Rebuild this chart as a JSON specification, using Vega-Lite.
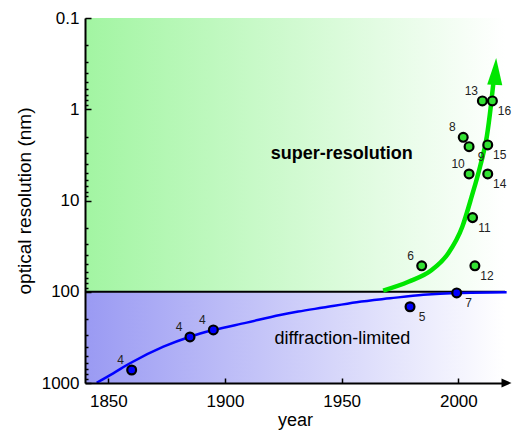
{
  "$schema": "https://vega.github.io/schema/vega-lite/v6.json",
  "width": 420,
  "height": 365,
  "autosize": "none",
  "padding": {"left": 85, "top": 18, "right": 7, "bottom": 47},
  "background": "white",
  "config": {"view": {"stroke": null}, "font": "Liberation Sans"},
  "datasets": {
    "bg_sr": [{"year": 1840, "year2": 2020, "res": 0.1, "res2": 100}],
    "bg_dl": [{"year": 1840, "year2": 2020, "res": 100, "res2": 1000}],
    "baseline": [{"year": 1840, "year2": 2020, "res": 100}],
    "diffraction_curve": [
      {"year": 1845, "res": 993}, {"year": 1852.1, "res": 783}, {"year": 1859.3, "res": 608},
      {"year": 1873.6, "res": 400}, {"year": 1885, "res": 311}, {"year": 1895, "res": 263},
      {"year": 1909.3, "res": 218}, {"year": 1923.6, "res": 180}, {"year": 1931.4, "res": 165},
      {"year": 1942.1, "res": 149}, {"year": 1956.4, "res": 130}, {"year": 1970.7, "res": 118},
      {"year": 1985, "res": 108}, {"year": 1999.3, "res": 103}, {"year": 2020.7, "res": 101}
    ],
    "superres_curve": [
      {"year": 1967.8, "res": 97}, {"year": 1978.6, "res": 77.6}, {"year": 1988.6, "res": 57.8},
      {"year": 1995.7, "res": 37.9}, {"year": 2001.7, "res": 19.4}, {"year": 2005.7, "res": 9.08},
      {"year": 2009.3, "res": 4.26}, {"year": 2012.2, "res": 2.0}, {"year": 2013.9, "res": 0.94},
      {"year": 2015.0, "res": 0.52}
    ],
    "arrow_head": [{"year": 2015.6, "res": 0.542}],
    "axis_arrow": [{"year": 2018.5, "res": 1000}],
    "milestones": [
      {"year": 1860, "res": 720, "label": "4", "series": "diffraction-limited"},
      {"year": 1885, "res": 313, "label": "4", "series": "diffraction-limited"},
      {"year": 1895, "res": 262, "label": "4", "series": "diffraction-limited"},
      {"year": 1979.3, "res": 146, "label": "5", "series": "diffraction-limited"},
      {"year": 1999.3, "res": 103, "label": "7", "series": "diffraction-limited"},
      {"year": 1984.3, "res": 52, "label": "6", "series": "super-resolution"},
      {"year": 2002.1, "res": 2.03, "label": "8", "series": "super-resolution"},
      {"year": 2004.6, "res": 2.57, "label": "9", "series": "super-resolution"},
      {"year": 2004.6, "res": 5.12, "label": "10", "series": "super-resolution"},
      {"year": 2006.1, "res": 15.4, "label": "11", "series": "super-resolution"},
      {"year": 2007.1, "res": 52, "label": "12", "series": "super-resolution"},
      {"year": 2010.3, "res": 0.81, "label": "13", "series": "super-resolution"},
      {"year": 2012.6, "res": 5.12, "label": "14", "series": "super-resolution"},
      {"year": 2012.6, "res": 2.46, "label": "15", "series": "super-resolution"},
      {"year": 2014.6, "res": 0.81, "label": "16", "series": "super-resolution"}
    ],
    "regions": [
      {"year": 1950, "res": 3.5, "text": "super-resolution"},
      {"year": 1950.3, "res": 374, "text": "diffraction-limited"}
    ]
  },
  "encoding": {
    "x": {
      "field": "year",
      "type": "quantitative",
      "scale": {"domain": [1840, 2020], "nice": false, "zero": false},
      "axis": {
        "title": "year",
        "zindex": 1,
        "values": [1850, 1900, 1950, 2000],
        "format": "d",
        "grid": false,
        "tickSize": -5,
        "tickColor": "black",
        "tickWidth": 1.5,
        "domainColor": "black",
        "domainWidth": 2,
        "labelFontSize": 17,
        "labelColor": "black",
        "labelPadding": 15,
        "titleFontSize": 18,
        "titleFontWeight": "normal",
        "titleColor": "black",
        "titlePadding": 2
      }
    },
    "y": {
      "field": "res",
      "type": "quantitative",
      "scale": {"type": "log", "domain": [0.1, 1000], "reverse": true, "nice": false},
      "axis": {
        "title": "optical resolution (nm)",
        "zindex": 1,
        "values": [0.1, 0.2, 0.3, 0.4, 0.5, 0.6, 0.7, 0.8, 0.9, 1, 2, 3, 4, 5, 6, 7, 8, 9, 10, 20, 30, 40, 50, 60, 70, 80, 90, 100, 200, 300, 400, 500, 600, 700, 800, 900, 1000],
        "labelExpr": "indexof([0.1, 1, 10, 100, 1000], datum.value) >= 0 ? toString(datum.value) : ''",
        "labelOverlap": false,
        "grid": false,
        "tickSize": {"condition": {"test": "indexof([0.1, 1, 10, 100, 1000], datum.value) >= 0", "value": -6}, "value": -3},
        "tickColor": "black",
        "tickWidth": 1.5,
        "domainColor": "black",
        "domainWidth": 2,
        "labelFontSize": 17,
        "labelColor": "black",
        "labelPadding": 12,
        "titleFontSize": 19,
        "titleFontWeight": "normal",
        "titleColor": "black",
        "titlePadding": 7
      }
    }
  },
  "layer": [
    {
      "data": {"name": "bg_sr"},
      "mark": {"type": "rect", "fill": {"gradient": "linear", "x1": 0, "y1": 0, "x2": 1, "y2": 0, "stops": [{"offset": 0, "color": "#a2f5a2"}, {"offset": 1, "color": "#ffffff"}]}},
      "encoding": {"x2": {"field": "year2"}, "y2": {"field": "res2"}}
    },
    {
      "data": {"name": "bg_dl"},
      "mark": {"type": "rect", "fill": {"gradient": "linear", "x1": 0, "y1": 0, "x2": 1, "y2": 0, "stops": [{"offset": 0, "color": "#9a9af3"}, {"offset": 1, "color": "#ffffff"}]}},
      "encoding": {"x2": {"field": "year2"}, "y2": {"field": "res2"}}
    },
    {
      "data": {"name": "baseline"},
      "mark": {"type": "rule", "color": "black", "strokeWidth": 2},
      "encoding": {"x2": {"field": "year2"}}
    },
    {
      "data": {"name": "diffraction_curve"},
      "mark": {"type": "line", "color": "#0000ff", "strokeWidth": 2.5, "interpolate": "monotone"},
      "encoding": {}
    },
    {
      "data": {"name": "superres_curve"},
      "mark": {"type": "line", "color": "#00e600", "strokeWidth": 4.5, "interpolate": "monotone"},
      "encoding": {}
    },
    {
      "data": {"name": "arrow_head"},
      "mark": {"type": "point", "shape": "M0,-1L0.28,0L-0.28,0Z", "size": 2916, "filled": true, "color": "#00e600", "opacity": 1, "angle": 3, "strokeWidth": 0}
    },
    {
      "data": {"name": "axis_arrow"},
      "mark": {"type": "point", "shape": "M0,-0.45L1,0L0,0.45Z", "size": 400, "filled": true, "color": "black", "opacity": 1, "strokeWidth": 0}
    },
    {
      "data": {"name": "milestones"},
      "mark": {"type": "point", "shape": "circle", "filled": true, "size": 78, "stroke": "black", "strokeWidth": 2.2, "opacity": 1},
      "encoding": {
        "color": {"field": "series", "type": "nominal", "scale": {"domain": ["diffraction-limited", "super-resolution"], "range": ["#0000ff", "#33e033"]}, "legend": null}
      }
    },
    {
      "data": {"name": "milestones"},
      "transform": [{"filter": "indexof(['4', '6', '8', '10', '13'], datum.label) >= 0"}],
      "mark": {"type": "text", "fontSize": 12, "color": "#222222", "dx": -11, "dy": -10, "align": "center", "baseline": "middle"},
      "encoding": {"text": {"field": "label"}}
    },
    {
      "data": {"name": "milestones"},
      "transform": [{"filter": "indexof(['4', '6', '8', '10', '13'], datum.label) < 0"}],
      "mark": {"type": "text", "fontSize": 12, "color": "#222222", "dx": 12, "dy": 10, "align": "center", "baseline": "middle"},
      "encoding": {"text": {"field": "label"}}
    },
    {
      "data": {"name": "regions"},
      "transform": [{"filter": "datum.text == 'super-resolution'"}],
      "mark": {"type": "text", "fontSize": 18, "fontWeight": "bold", "color": "black", "align": "center", "baseline": "alphabetic"},
      "encoding": {"text": {"field": "text"}}
    },
    {
      "data": {"name": "regions"},
      "transform": [{"filter": "datum.text == 'diffraction-limited'"}],
      "mark": {"type": "text", "fontSize": 18, "fontWeight": "normal", "color": "black", "align": "center", "baseline": "alphabetic"},
      "encoding": {"text": {"field": "text"}}
    }
  ]
}
